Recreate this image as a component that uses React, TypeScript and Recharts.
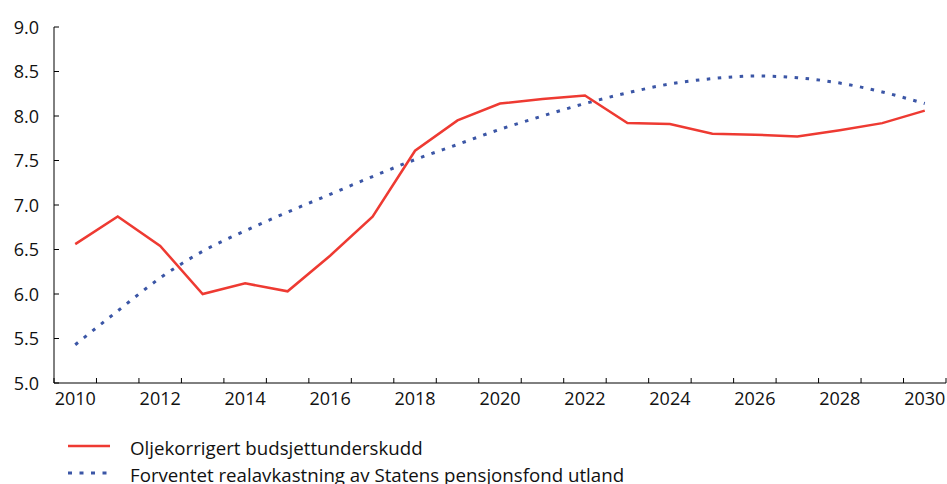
import React from 'react';
import { LineChart, Line, XAxis, YAxis } from 'recharts';

const years = [2010, 2011, 2012, 2013, 2014, 2015, 2016, 2017, 2018, 2019, 2020, 2021, 2022, 2023, 2024, 2025, 2026, 2027, 2028, 2029, 2030];
const budgetDeficit = [6.56, 6.87, 6.54, 6.0, 6.12, 6.03, 6.43, 6.87, 7.61, 7.95, 8.14, 8.19, 8.23, 7.92, 7.91, 7.8, 7.79, 7.77, 7.84, 7.92, 8.06];
const expectedReturn = [5.43, 5.81, 6.18, 6.48, 6.71, 6.92, 7.12, 7.32, 7.51, 7.68, 7.85, 8.0, 8.14, 8.26, 8.36, 8.42, 8.45, 8.43, 8.37, 8.27, 8.14];
const yTicks = [5.0, 5.5, 6.0, 6.5, 7.0, 7.5, 8.0, 8.5, 9.0];
const xLabelYears = [2010, 2012, 2014, 2016, 2018, 2020, 2022, 2024, 2026, 2028, 2030];
const xBoundaries = [2009.5, 2010.5, 2011.5, 2012.5, 2013.5, 2014.5, 2015.5, 2016.5, 2017.5, 2018.5, 2019.5, 2020.5, 2021.5, 2022.5, 2023.5, 2024.5, 2025.5, 2026.5, 2027.5, 2028.5, 2029.5, 2030.5];
const seriesNames = ['Oljekorrigert budsjettunderskudd', 'Forventet realavkastning av Statens pensjonsfond utland'];

const RED = '#ee3a32';
const BLUE = '#3b56a6';
const FONT = '"Open Sans", sans-serif';

const data = years.map((y, i) => ({ year: y, deficit: budgetDeficit[i], ret: expectedReturn[i] }));
const xTicks = [...xBoundaries, ...xLabelYears].sort((a, b) => a - b);

const XTick = (props: any) => {
  const { x, y, payload } = props;
  const v = payload.value;
  if (!Number.isInteger(v)) {
    return <line x1={x} x2={x} y1={y} y2={y - 5} stroke="#000" strokeWidth={1} />;
  }
  return (
    <text x={x} y={y + 22} textAnchor="middle" fontFamily={FONT} fontSize={18} fill="#111">
      {v}
    </text>
  );
};

const YTick = (props: any) => {
  const { x, y, payload } = props;
  return (
    <g>
      <line x1={x} x2={x + 5} y1={y} y2={y} stroke="#000" strokeWidth={1} />
      <text x={x - 15} y={y + 6.5} textAnchor="end" fontFamily={FONT} fontSize={18} fill="#111">
        {payload.value.toFixed(1)}
      </text>
    </g>
  );
};

export default function App() {
  return (
    <div style={{ position: 'absolute', left: 0, top: 0, width: 947, height: 484, background: '#fff', overflow: 'hidden' }}>
      <LineChart width={947} height={484} data={data} margin={{ top: 27, right: 1, left: 0, bottom: 71 }}>
        <XAxis
          dataKey="year"
          type="number"
          domain={[2009.5, 2030.5]}
          ticks={xTicks}
          interval={0}
          tickSize={0}
          tickMargin={0}
          tickLine={false}
          tick={<XTick />}
          axisLine={{ stroke: '#000', strokeWidth: 1 }}
          height={30}
          allowDataOverflow
        />
        <YAxis
          type="number"
          domain={[5, 9]}
          ticks={yTicks}
          interval={0}
          tickSize={0}
          tickMargin={0}
          tickLine={false}
          tick={<YTick />}
          axisLine={{ stroke: '#000', strokeWidth: 1 }}
          width={54}
          allowDataOverflow
        />
        <Line type="monotone" dataKey="ret" stroke={BLUE} strokeWidth={3} strokeDasharray="3.5 7.5" dot={false} isAnimationActive={false} />
        <Line type="linear" dataKey="deficit" stroke={RED} strokeWidth={2.5} dot={false} isAnimationActive={false} />
      </LineChart>
      <svg width={947} height={484} style={{ position: 'absolute', left: 0, top: 0, pointerEvents: 'none' }}>
        <line x1={68} x2={110} y1={446} y2={446} stroke={RED} strokeWidth={2.5} />
        <text x={130} y={455} fontFamily={FONT} fontSize={18.7} fill="#111">{seriesNames[0]}</text>
        <line x1={68} x2={108} y1={473} y2={473} stroke={BLUE} strokeWidth={3} strokeDasharray="4 7.5" />
        <text x={130} y={481.5} fontFamily={FONT} fontSize={18.7} fill="#111">{seriesNames[1]}</text>
      </svg>
    </div>
  );
}
